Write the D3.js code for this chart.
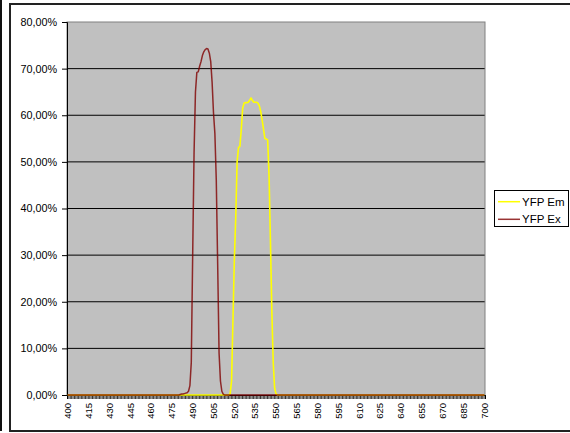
<!DOCTYPE html>
<html>
<head>
<meta charset="utf-8">
<script src="https://cdn.jsdelivr.net/npm/d3@7"></script>
<style>
  html, body { margin: 0; padding: 0; background: #ffffff; }
  svg { display: block; font-family: "Liberation Sans", Arial, sans-serif; }
</style>
</head>
<body>
<svg id="chart" width="570" height="433"></svg>
<script>
// ---- Data ----
// Wavelength categories (nm), one per category on the axis
const wavelengths = d3.range(400, 701, 1);
// Axis tick labels (every 15 nm)
const xTickLabels = d3.range(400, 701, 15);
// Y axis ticks (%)
const yTicks = [0, 10, 20, 30, 40, 50, 60, 70, 80];
// Series names
const seriesNames = ["YFP Em", "YFP Ex"];

// YFP Em (%), 400..700 nm
const yfpEm = [
  0,0,0,0,0,0,0,0,0,0, 0,0,0,0,0,0,0,0,0,0, // 400-419
  0,0,0,0,0,0,0,0,0,0, 0,0,0,0,0,0,0,0,0,0, // 420-439
  0,0,0,0,0,0,0,0,0,0, 0,0,0,0,0,0,0,0,0,0, // 440-459
  0,0,0,0,0,0,0,0,0,0, 0,0,0,0,0,0,0,0,0,0, // 460-479
  0,0,0,0,0,0,0,0,0,0, 0,0,0,0,0,0,0,0,0,0, // 480-499
  0,0,0,0,0,0,0,0,0,0, 0,0,0,0,0,0,0,        // 500-516
  0.3,3,16,29,38,50,53.1,53.3,57,61.5,        // 517-526
  62.6,62.7,62.7,62.8,63.2,63.7,63.2,62.8,62.8,62.8, // 527-536
  62.6,62,60.8,59,57,55,54.9,54.7,47,33,      // 537-546
  18,7,1.5,0.3,                               // 547-550
  0,0,0,0,0,0,0,0,0,0, 0,0,0,0,0,0,0,0,0,0, // 551-570
  0,0,0,0,0,0,0,0,0,0, 0,0,0,0,0,0,0,0,0,0, // 571-590
  0,0,0,0,0,0,0,0,0,0, 0,0,0,0,0,0,0,0,0,0, // 591-610
  0,0,0,0,0,0,0,0,0,0, 0,0,0,0,0,0,0,0,0,0, // 611-630
  0,0,0,0,0,0,0,0,0,0, 0,0,0,0,0,0,0,0,0,0, // 631-650
  0,0,0,0,0,0,0,0,0,0, 0,0,0,0,0,0,0,0,0,0, // 651-670
  0,0,0,0,0,0,0,0,0,0, 0,0,0,0,0,0,0,0,0,0, // 671-690
  0,0,0,0,0,0,0,0,0,0                         // 691-700
];

// YFP Ex (%), 400..700 nm
const yfpEx = [
  0,0,0,0,0,0,0,0,0,0, 0,0,0,0,0,0,0,0,0,0, // 400-419
  0,0,0,0,0,0,0,0,0,0, 0,0,0,0,0,0,0,0,0,0, // 420-439
  0,0,0,0,0,0,0,0,0,0, 0,0,0,0,0,0,0,0,0,0, // 440-459
  0,0,0,0,0,0,0,0,0,0, 0,0,0,0,0,0,0,0,0,0, // 460-479
  0,                                          // 480
  0.1,0.2,0.2,0.3,0.4,0.5,0.8,2,7,30,         // 481-490
  52,65,69.2,69.3,70.5,71.5,72.8,73.6,74.1,74.3, // 491-500
  74.2,73.3,71.5,67,60.5,56,46,28,9,3,        // 501-510
  0.8,0.2,                                    // 511-512
  0,0,0,0,0,0,0,0,0,0, 0,0,0,0,0,0,0,0,0,0, // 513-532
  0,0,0,0,0,0,0,0,0,0, 0,0,0,0,0,0,0,0,0,0, // 533-552
  0,0,0,0,0,0,0,0,0,0, 0,0,0,0,0,0,0,0,0,0, // 553-572
  0,0,0,0,0,0,0,0,0,0, 0,0,0,0,0,0,0,0,0,0, // 573-592
  0,0,0,0,0,0,0,0,0,0, 0,0,0,0,0,0,0,0,0,0, // 593-612
  0,0,0,0,0,0,0,0,0,0, 0,0,0,0,0,0,0,0,0,0, // 613-632
  0,0,0,0,0,0,0,0,0,0, 0,0,0,0,0,0,0,0,0,0, // 633-652
  0,0,0,0,0,0,0,0,0,0, 0,0,0,0,0,0,0,0,0,0, // 653-672
  0,0,0,0,0,0,0,0,0,0, 0,0,0,0,0,0,0,0,0,0, // 673-692
  0,0,0,0,0,0,0,0                             // 693-700
];

// ---- Layout ----
const svg = d3.select("#chart");
const plot = { left: 67, right: 485, top: 22, bottom: 395 };

const x = d3.scaleBand().domain(wavelengths).range([plot.left, plot.right]).padding(0);
const xc = d => x(d) + x.bandwidth() / 2;
const y = d3.scaleLinear().domain([0, 80]).range([plot.bottom, plot.top]);

// far-left sheet line
svg.append("line").attr("x1", 1).attr("x2", 1).attr("y1", 0).attr("y2", 431)
  .attr("stroke", "#111").attr("stroke-width", 2);

// chart frame
svg.append("rect").attr("x", 10).attr("y", 4).attr("width", 580).attr("height", 427)
  .attr("fill", "#ffffff").attr("stroke", "#222").attr("stroke-width", 2);

// plot area
svg.append("rect").attr("x", plot.left).attr("y", plot.top)
  .attr("width", plot.right - plot.left).attr("height", plot.bottom - plot.top)
  .attr("fill", "#c0c0c0");

// gridlines
svg.append("g").selectAll("line").data(yTicks.filter(t => t > 0 && t < 80)).join("line")
  .attr("x1", plot.left).attr("x2", plot.right)
  .attr("y1", d => y(d)).attr("y2", d => y(d))
  .attr("stroke", "#000").attr("stroke-width", 1);

// plot border
svg.append("rect").attr("x", plot.left).attr("y", plot.top)
  .attr("width", plot.right - plot.left).attr("height", plot.bottom - plot.top)
  .attr("fill", "none").attr("stroke", "#808080").attr("stroke-width", 1);

// Y axis
const fmtPct = v => v.toFixed(2).replace(".", ",") + "%";
const yAxis = d3.axisLeft(y).tickValues(yTicks).tickFormat(fmtPct).tickSize(5).tickPadding(5);
const gy = svg.append("g").attr("transform", `translate(${plot.left},0)`).call(yAxis);
gy.select(".domain").attr("stroke", "#000");
gy.selectAll(".tick line").attr("stroke", "#000");
gy.selectAll(".tick text").attr("font-size", "10.8px").attr("fill", "#000")
  .attr("font-family", "Liberation Sans, Arial, sans-serif");

// X axis: category boundary ticks
const xBound = d3.scaleLinear().domain([0, wavelengths.length]).range([plot.left, plot.right]);
const xAxisTicks = d3.axisBottom(xBound).tickValues(d3.range(0, wavelengths.length + 1))
  .tickFormat("").tickSize(4);
const gx = svg.append("g").attr("transform", `translate(0,${plot.bottom})`).call(xAxisTicks);
gx.select(".domain").attr("stroke", "#000");
gx.selectAll(".tick line").attr("stroke", "#000").attr("stroke-width", 0.8);

// X labels
svg.append("g").selectAll("text").data(xTickLabels).join("text")
  .attr("transform", d => `translate(${xc(d)},${plot.bottom + 8}) rotate(-90)`)
  .attr("text-anchor", "end").attr("dy", "0.35em")
  .attr("font-size", "9.5px").attr("fill", "#000")
  .text(d => d);

// Series
const line = d3.line().x((d, i) => xc(wavelengths[i])).y(d => y(d)).curve(d3.curveLinear);
svg.append("path").datum(yfpEm).attr("d", line)
  .attr("fill", "none").attr("stroke", "#ffff00").attr("stroke-width", 1.6)
  .attr("stroke-linejoin", "round");
svg.append("path").datum(yfpEx).attr("d", line)
  .attr("fill", "none").attr("stroke", "#800000").attr("stroke-width", 1.5)
  .attr("stroke-opacity", 0.8).attr("stroke-linejoin", "round");

// Legend
const lg = svg.append("g");
lg.append("rect").attr("x", 494.5).attr("y", 190.5).attr("width", 74).attr("height", 36)
  .attr("fill", "#fff").attr("stroke", "#000").attr("stroke-width", 1);
const legendColors = ["#ffff00", "#993333"];
seriesNames.forEach((name, i) => {
  const ly = 201.7 + i * 17.6;
  lg.append("line").attr("x1", 498).attr("x2", 520).attr("y1", ly).attr("y2", ly)
    .attr("stroke", legendColors[i]).attr("stroke-width", 1.5);
  lg.append("text").attr("x", 522).attr("y", ly).attr("dy", "0.36em")
    .attr("font-size", "11.5px").attr("fill", "#000").text(name);
});
</script>
</body>
</html>
